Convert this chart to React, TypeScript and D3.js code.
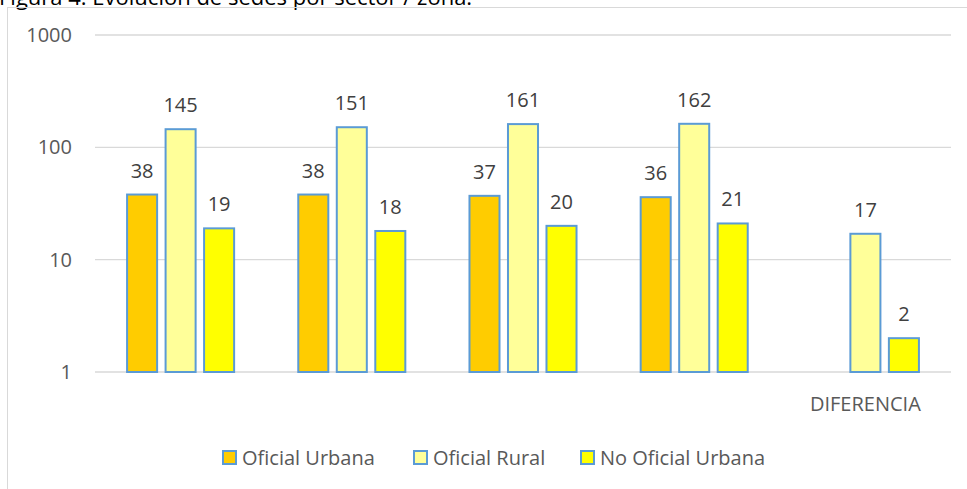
import React from "react";
import * as d3 from "d3";

const categories = ["", "", "", "", "DIFERENCIA"];
const seriesNames = ["Oficial Urbana", "Oficial Rural", "No Oficial Urbana"];
const oficialUrbana: (number | null)[] = [38, 38, 37, 36, null];
const oficialRural: (number | null)[] = [145, 151, 161, 162, 17];
const noOficialUrbana: (number | null)[] = [19, 18, 20, 21, 2];
const yTicks = [1, 10, 100, 1000];
const title = "Figura 4. Evolución de sedes por sector / zona.";

const colors = ["#FFCC00", "#FFFF99", "#FFFF00"];
const edge = "#5B9BD5";
const FONT = "'Open Sans', sans-serif";

export default function App() {
  const W = 967, H = 489;
  const series = [oficialUrbana, oficialRural, noOficialUrbana];
  const y = d3.scaleLog().domain([1, 1000]).range([372, 35]);
  const x0 = d3.scaleBand<number>().domain(categories.map((_, i) => i)).range([95, 951]).paddingInner(0).paddingOuter(0);
  const x1 = d3.scaleBand<number>().domain([0, 1, 2]).range([0, x0.bandwidth()]).paddingInner(0.22).paddingOuter(0.833);

  const legendX = [222, 413, 580];

  return (
    <svg width={W} height={H} style={{ position: "absolute", left: 0, top: 0, background: "#fff" }}>
      <text x={-1} y={5} fontFamily={FONT} fontSize={22} fill="#000">{title}</text>
      <rect x={7.5} y={7.5} width={980} height={500} fill="none" stroke="#D9D9D9" strokeWidth={1} />
      {yTicks.map((t) => (
        <g key={t}>
          <line x1={95} x2={951} y1={y(t)} y2={y(t)} stroke="#D9D9D9" strokeWidth={1.3} />
          <text x={72} y={y(t) + 7} textAnchor="end" fontFamily={FONT} fontSize={20} fill="#595959">{t}</text>
        </g>
      ))}
      {categories.map((c, i) => (
        <g key={i} transform={`translate(${x0(i)},0)`}>
          {series.map((s, j) => {
            const v = s[i];
            if (v == null) return null;
            const bx = x1(j)!;
            const top = y(v);
            return (
              <g key={j}>
                <rect x={bx} y={top} width={x1.bandwidth()} height={y(1) - top} fill={colors[j]} stroke={edge} strokeWidth={2} />
                <text x={bx + x1.bandwidth() / 2} y={top - 17} textAnchor="middle" fontFamily={FONT} fontSize={20} fill="#404040">{v}</text>
              </g>
            );
          })}
          <text x={x0.bandwidth() / 2} y={411} textAnchor="middle" fontFamily={FONT} fontSize={20} fill="#595959">{c}</text>
        </g>
      ))}
      {seriesNames.map((n, j) => (
        <g key={n}>
          <rect x={legendX[j] + 1} y={451} width={13} height={13} fill={colors[j]} stroke={edge} strokeWidth={2} />
          <text x={legendX[j] + 20} y={465} fontFamily={FONT} fontSize={20} fill="#595959">{n}</text>
        </g>
      ))}
    </svg>
  );
}
